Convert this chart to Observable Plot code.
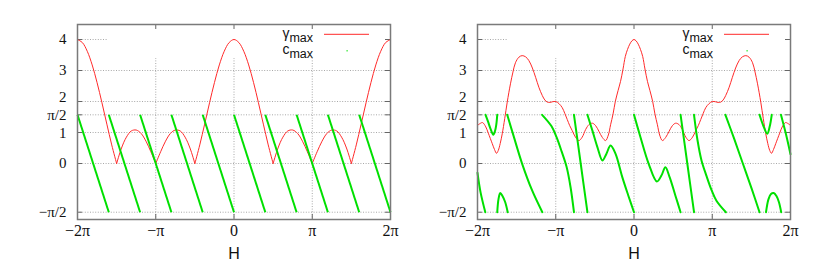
<!DOCTYPE html>
<html>
<head>
<meta charset="utf-8">
<script src="https://cdn.jsdelivr.net/npm/d3@7"></script>
<script src="https://cdn.jsdelivr.net/npm/@observablehq/plot@0.6"></script>
<style>
  body { margin: 0; background: #fff; }
  #wrap { position: relative; width: 817px; height: 273px; overflow: hidden; background: #fff; }
  #wrap svg { position: absolute; top: 0; }
</style>
</head>
<body>
<div id="wrap"></div>
<script>
const PI = Math.PI;

// axes
const xTickValues = [-2 * PI, -PI, 0, PI, 2 * PI];
const xTickLabels = ["−2π", "−π", "0", "π", "2π"];
const yTickValues = [4, 3, 2, PI / 2, 1, 0, -PI / 2];
const yTickLabels = ["4", "3", "2", "π/2", "1", "0", "−π/2"];

// left panel: gamma_max sampled every π/16 (k = -32..32)
const leftK = [-32,-31,-30,-29,-28,-27,-26,-25,-24,-23,-22,-21,-20,-19,-18,-17,-16,-15,-14,-13,-12,-11,-10,-9,-8,-7,-6,-5,-4,-3,-2,-1,
               0,1,2,3,4,5,6,7,8,9,10,11,12,13,14,15,16,17,18,19,20,21,22,23,24,25,26,27,28,29,30,31,32];
const leftGamma = [4.00,3.90,3.62,3.18,2.61,1.96,1.27,0.60,0.00,0.50,0.85,1.05,1.08,0.97,0.72,0.38,0.00,0.38,0.72,0.97,1.08,1.05,0.85,0.50,0.00,0.60,1.27,1.96,2.61,3.18,3.62,3.90,
                   4.00,3.90,3.62,3.18,2.61,1.96,1.27,0.60,0.00,0.50,0.85,1.05,1.08,0.97,0.72,0.38,0.00,0.38,0.72,0.97,1.08,1.05,0.85,0.50,0.00,0.60,1.27,1.96,2.61,3.18,3.62,3.90,4.00];
// left panel: c_max straight segments (in units of π), from +π/2 down to −π/2
const leftCStartPi = [-2.0, -1.6, -1.2, -0.8, -0.4, 0.0, 0.4, 0.8, 1.2, 1.6];
const leftCEndPi   = [-1.6, -1.2, -0.8, -0.4, 0.0, 0.4, 0.8, 1.2, 1.6, 2.0];
const leftCTop = PI / 2, leftCBottom = -PI / 2;

// right panel: gamma_max
const rightGH = [-6.283,-6.18,-6.08,-5.95,-5.85,-5.69,-5.60,-5.52,-5.45,-5.37,-5.29,-5.19,-5.09,-4.96,-4.86,-4.76,-4.62,-4.49,-4.35,-4.22,-4.08,-3.95,-3.82,-3.68,-3.58,-3.48,-3.38,-3.28,-3.14,-3.01,-2.88,-2.78,-2.68,-2.58,-2.48,-2.35,-2.21,-2.08,-1.94,-1.80,-1.67,-1.54,-1.41,-1.27,-1.14,-1.03,-0.94,-0.84,-0.75,-0.64,-0.54,-0.44,-0.35,-0.26,-0.17,-0.08,0,
                 0.08,0.17,0.26,0.35,0.44,0.54,0.64,0.75,0.84,0.94,1.03,1.14,1.27,1.41,1.54,1.67,1.80,1.94,2.08,2.21,2.35,2.48,2.58,2.68,2.78,2.88,3.01,3.14,3.28,3.38,3.48,3.58,3.68,3.82,3.95,4.08,4.22,4.35,4.49,4.62,4.76,4.86,4.96,5.09,5.19,5.29,5.37,5.45,5.52,5.60,5.69,5.85,5.95,6.08,6.18,6.283];
const rightGV = [1.23,1.29,1.32,1.18,0.98,0.64,0.45,0.33,0.42,0.65,0.96,1.45,1.98,2.57,2.95,3.25,3.43,3.48,3.44,3.32,3.08,2.78,2.46,2.19,2.05,1.98,1.97,1.99,2.00,1.93,1.80,1.62,1.42,1.22,1.06,0.85,0.74,0.85,1.10,1.26,1.30,1.22,1.04,0.84,0.74,0.92,1.25,1.60,2.00,2.35,2.65,3.05,3.45,3.68,3.85,3.96,4.00,
                 3.96,3.85,3.68,3.45,3.05,2.65,2.35,2.00,1.60,1.25,0.92,0.74,0.84,1.04,1.22,1.30,1.26,1.10,0.85,0.74,0.85,1.06,1.22,1.42,1.62,1.80,1.93,2.00,1.99,1.97,1.98,2.05,2.19,2.46,2.78,3.08,3.32,3.44,3.48,3.43,3.25,2.95,2.57,1.98,1.45,0.96,0.65,0.42,0.33,0.45,0.64,0.98,1.18,1.32,1.29,1.23];

// right panel: c_max branches
const cRightH = [
  [-6.283,-6.16,-5.97],
  [-5.96,-5.86,-5.76,-5.65,-5.58,-5.53,-5.49],
  [-5.49,-5.44,-5.37,-5.28,-5.17,-5.07],
  [-5.09,-4.82,-4.49,-4.09,-3.68],
  [-3.69,-3.31,-3.11,-2.91,-2.71,-2.55,-2.41],
  [-2.41,-2.14,-1.87],
  [-1.87,-1.67,-1.47,-1.27,-1.11,-0.94,-0.74,-0.47,-0.23,0],
  [0,0.26,0.59,0.92,1.10,1.26,1.43,1.66,1.87],
  [1.87,2.14,2.41],
  [2.41,2.55,2.71,2.91,3.11,3.31,3.69],
  [3.67,4.02,4.37,4.72,5.04],
  [5.04,5.20,5.35,5.45,5.53],
  [5.30,5.40,5.50,5.61,5.72,5.82,5.91],
  [5.90,6.10,6.283]
];
const cRightC = [
  [-0.30,-0.93,-1.571],
  [1.571,1.35,1.12,0.93,1.05,1.25,1.571],
  [-1.571,-1.15,-0.95,-1.05,-1.25,-1.571],
  [1.571,0.85,-0.01,-0.87,-1.571],
  [1.571,1.20,0.85,0.40,-0.10,-0.75,-1.571],
  [1.571,0,-1.571],
  [1.571,1.06,0.53,0.10,0.31,0.58,0.31,-0.44,-1.03,-1.571],
  [1.571,0.85,-0.01,-0.58,-0.39,-0.12,-0.44,-1.03,-1.571],
  [1.571,0,-1.571],
  [1.571,0.75,0.10,-0.40,-0.85,-1.20,-1.571],
  [1.571,0.80,0.0,-0.80,-1.571],
  [1.571,1.20,0.96,1.20,1.571],
  [-1.571,-1.15,-0.98,-0.95,-1.05,-1.25,-1.571],
  [1.571,0.95,0.30]
];

const RED = "#ff2a2a";
const GREEN = "#00e000";

// ---------- build tables ----------
const leftRows = [];
{
  let seg = 0;
  leftK.forEach((k, i) => {
    const r = {H: k * PI / 16, g: leftGamma[i]};
    leftRows.push({...r, seg});
    if (leftGamma[i] === 0) { seg++; leftRows.push({...r, seg}); }
  });
}
const leftLinks = leftCStartPi.map((s, i) => ({x1: s * PI, x2: leftCEndPi[i] * PI, y1: leftCTop, y2: leftCBottom}));
const rightGRows = rightGH.map((h, i) => ({H: h, g: rightGV[i]}));
const rightCRows = [];
cRightH.forEach((hs, b) => hs.forEach((h, i) => rightCRows.push({H: h, c: cRightC[b][i], b})));

// ---------- helpers ----------
const keyBox = (index, scales, values, dims) => {
  const {width, marginLeft, marginRight, marginTop} = dims;
  const x0 = marginLeft + 30, x1 = width - marginRight - 3;
  return d3.create("svg:rect")
    .attr("x", x0).attr("y", marginTop + 1)
    .attr("width", x1 - x0).attr("height", 33)
    .attr("fill", "#fff").node();
};

const legend = (index, scales, values, dims) => {
  const {width, marginRight} = dims;
  const right = width - marginRight;
  const g = d3.create("svg:g").attr("font-family", "'Liberation Sans', Arial, sans-serif").attr("fill", "#111");
  const t1 = g.append("text").attr("x", right - 77).attr("y", 37.5).attr("text-anchor", "end");
  t1.append("tspan").attr("font-size", 14).text("γ");
  t1.append("tspan").attr("font-size", 12.5).attr("dy", 4).text("max");
  const t2 = g.append("text").attr("x", right - 77).attr("y", 53.5).attr("text-anchor", "end");
  t2.append("tspan").attr("font-size", 14).text("c");
  t2.append("tspan").attr("font-size", 12.5).attr("dy", 4).text("max");
  g.append("line").attr("x1", right - 66).attr("x2", right - 21).attr("y1", 34.3).attr("y2", 34.3)
    .attr("stroke", RED).attr("stroke-width", 1);
  g.append("rect").attr("x", right - 43.5).attr("y", 50.2).attr("width", 1.2).attr("height", 1.2).attr("fill", GREEN);
  return g.node();
};

const yLabelShift = [0, 0, -4, 0.5, 1, 0, 0];

function panel(width, marginLeft, marginRight, dataMarks) {
  const mt = 24, mb = 54, H = 273;
  const pw = width - marginLeft - marginRight;
  const ph = H - mt - mb;
  const tick = 5;
  const serif = "Liberation Serif";
  return Plot.plot({
    width, height: H, marginLeft, marginRight, marginTop: mt, marginBottom: mb,
    x: {domain: [-2 * PI, 2 * PI], axis: null},
    y: {domain: [-1.806, 4.484], axis: null},
    style: {background: "transparent", overflow: "visible"},
    marks: [
      Plot.ruleY(yTickValues, {y: d => d, stroke: "#a8a8a8", strokeWidth: 1, strokeDasharray: "1,1.6"}),
      Plot.ruleX(xTickValues.slice(1, 4), {x: d => d, stroke: "#a8a8a8", strokeWidth: 1, strokeDasharray: "1,1.6"}),
      keyBox,
      Plot.tickX(xTickValues, {x: d => d, insetTop: ph - tick, stroke: "#666", strokeWidth: 1}),
      Plot.tickX(xTickValues, {x: d => d, insetBottom: ph - tick, stroke: "#666", strokeWidth: 1}),
      Plot.tickY(yTickValues, {y: d => d, insetRight: pw - tick, stroke: "#666", strokeWidth: 1}),
      Plot.tickY(yTickValues, {y: d => d, insetLeft: pw - tick, stroke: "#666", strokeWidth: 1}),
      ...dataMarks,
      Plot.frame({stroke: "#7a7a7a", strokeWidth: 1.5}),
      ...yTickValues.map((v, i) => Plot.text([v], {y: d => d, text: () => yTickLabels[i], frameAnchor: "left", textAnchor: "end",
        dx: -11, dy: yLabelShift[i], fontFamily: serif, fontSize: 15, fill: "#111"})),
      Plot.text(xTickValues, {x: d => d, text: (d, i) => xTickLabels[i], frameAnchor: "bottom", dy: 16,
        fontFamily: serif, fontSize: 16, fill: "#111"}),
      Plot.text(["H"], {text: d => d, frameAnchor: "bottom", dy: 39,
        fontFamily: "Liberation Sans", fontSize: 16, fill: "#111"}),
      legend
    ]
  });
}

const leftPlot = panel(408, 77, 18, [
  Plot.line(leftRows, {x: "H", y: "g", z: "seg", stroke: RED, strokeWidth: 1, curve: "catmull-rom"}),
  Plot.link(leftLinks, {x1: "x1", y1: "y1", x2: "x2", y2: "y2", stroke: GREEN, strokeWidth: 2})
]);
const rightPlot = panel(409, 69, 27, [
  Plot.line(rightGRows, {x: "H", y: "g", stroke: RED, strokeWidth: 1, curve: "catmull-rom"}),
  Plot.line(rightCRows, {x: "H", y: "c", z: "b", stroke: GREEN, strokeWidth: 2, curve: "catmull-rom"})
]);

leftPlot.style.left = "0px";
rightPlot.style.left = "408px";
document.getElementById("wrap").append(leftPlot, rightPlot);
</script>
</body>
</html>
